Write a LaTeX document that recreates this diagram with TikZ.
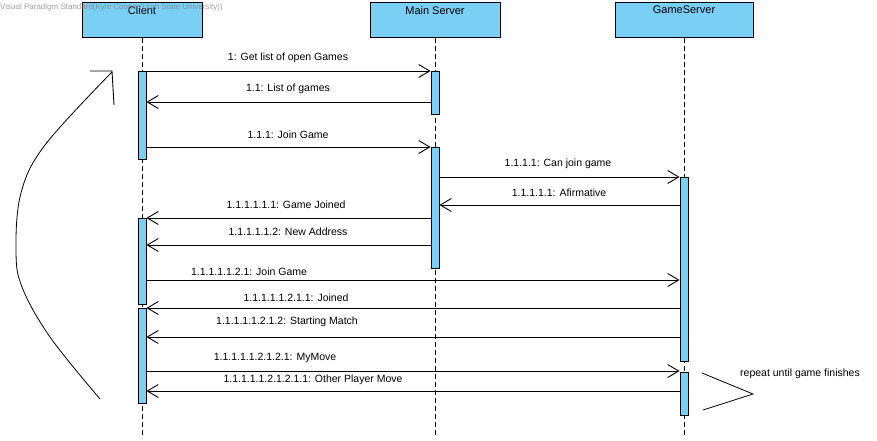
\documentclass[tikz,border=0pt]{standalone}
\usepackage{fontspec}
\setmainfont{Liberation Sans}
\usetikzlibrary{arrows.meta}
\definecolor{vpblue}{RGB}{122,207,245}
\tikzset{
	head/.style={draw, fill=vpblue, line width=1pt, minimum width=#1, minimum height=35pt, anchor=north, inner sep=0pt},
	bar/.style={draw, fill=vpblue, line width=0.9pt, minimum width=8pt, minimum height=#1, anchor=north, inner sep=0pt},
	life/.style={line width=0.9pt, dash pattern=on 5pt off 3pt},
	msg/.style={line width=0.9pt, -{Straight Barb[length=11pt,width=13pt,line width=0.9pt]}},
	lab/.style={inner sep=0pt, font=\fontsize{10.5}{12}\selectfont}
}
\begin{document}
\begin{tikzpicture}[x=1pt,y=-1pt]
\useasboundingbox (0,0) rectangle (877,441);

%Lifelines
\foreach \n/\x/\w/\t in
{
client/142/120pt/Client,
main/435/130pt/Main Server,
game/684/138pt/GameServer
}
{
	\node[head=\w, label={[lab, font=\fontsize{11}{13}\selectfont, anchor=north, yshift=-4pt]north:\t}] (\n) at (\x,2) {};
	\draw[life] (\n.south) -- (\n.south |- 0,437);
}

%Activierungen
\foreach \n/\x/\y/\h in
{
cA1/142/71/88pt,
cA2/142/218/86pt,
cA3/142/308/95pt,
mA1/435/71/43pt,
mA2/435/147/121pt,
gA1/684/177/184pt,
gA2/684/372/43pt
}
{
	\node[bar=\h] (\n) at (\x,\y) {};
}

%Nachrichten
\foreach \y/\a/\b in
{
71/cA1.east/mA1.west,
102/mA1.west/cA1.east,
147/cA1.east/mA2.west,
177/mA2.east/gA1.west,
205/gA1.west/mA2.east,
218/mA2.west/cA2.east,
245/mA2.west/cA2.east,
280/cA2.east/gA1.west,
308/gA1.west/cA3.east,
337/gA1.west/cA3.east,
371/cA3.east/gA2.west,
391/gA2.west/cA3.east
}
{
	\draw[msg] (\a |- 0,\y) -- (\b |- 0,\y);
}

%Beschriftungen
\foreach \n/\x/\y/\t in
{
l1/288/58/1: Get list of open Games,
l2/288/89/1.1: List of games,
l3/288/135/1.1.1: Join Game,
l4/558/164/1.1.1.1: Can join game,
l5/559/193/1.1.1.1.1: Afirmative,
l6/286/205/1.1.1.1.1.1: Game Joined,
l7/288/232/1.1.1.1.1.2: New Address,
l8/249/272/1.1.1.1.1.2.1: Join Game,
l9/296/298/1.1.1.1.1.2.1.1: Joined,
l10/287/322/1.1.1.1.1.2.1.2: Starting Match,
l11/275/358/1.1.1.1.1.2.1.2.1: MyMove,
l12/313/380/1.1.1.1.1.2.1.2.1.1: Other Player Move
}
{
	\node[lab] (\n) at (\x,\y) {\t};
}

%Wiederholung
\draw[line width=0.8pt] plot[smooth, tension=0.6] coordinates {(100,399) (50,337) (22,287) (16,250) (21,193) (45,145) (112,72)};
\coordinate (tip) at (112,71);
\draw[line width=0.9pt, line join=miter] (90,71) -- (tip) -- (114,105);
\draw[line width=0.8pt] (702,373) -- (753,394) -- (703,410);
\node[lab] (rep) at (800,374) {repeat until game finishes};

\node[anchor=west, inner sep=0pt, text=gray, opacity=0.75, font=\fontsize{8}{9}\selectfont] (wm) at (0,7) {Visual Paradigm Standard(Kyle Cooper(Utah State University))};
\end{tikzpicture}
\end{document}
